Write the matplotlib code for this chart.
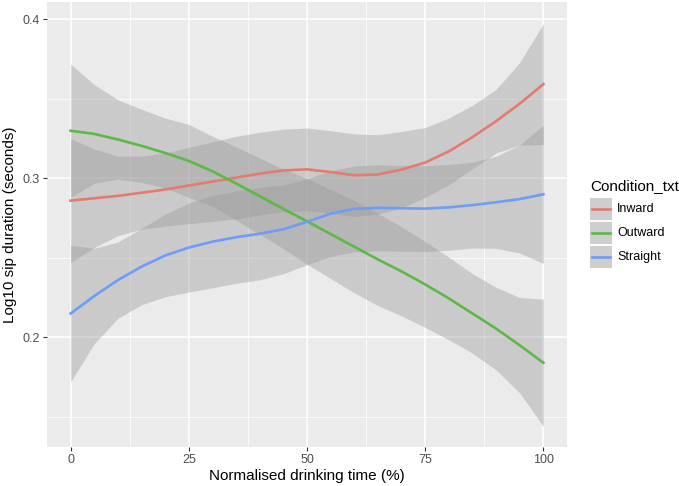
import numpy as np
import matplotlib
matplotlib.use("Agg")
import matplotlib.pyplot as plt
from matplotlib.patches import Rectangle
from matplotlib.lines import Line2D

plt.rcParams['font.family'] = ['Liberation Sans', 'DejaVu Sans']

time_pct = np.arange(0, 101, 5)

conditions = ['Inward', 'Outward', 'Straight']
colors = ['#E57A70', '#5CB946', '#6E9CF8']

inward_fit = [0.286, 0.2875, 0.289, 0.291, 0.293, 0.2955, 0.298, 0.3005, 0.303, 0.305, 0.3057,
              0.304, 0.302, 0.3025, 0.3055, 0.310, 0.317, 0.326, 0.336, 0.347, 0.3593]
inward_se = [0.039, 0.031, 0.025, 0.023, 0.023, 0.024, 0.025, 0.026, 0.026, 0.026, 0.026,
             0.026, 0.026, 0.025, 0.024, 0.022, 0.021, 0.020, 0.020, 0.026, 0.038]

outward_fit = [0.330, 0.328, 0.3245, 0.3205, 0.316, 0.311, 0.3045, 0.2968, 0.2888, 0.2808, 0.273,
               0.265, 0.257, 0.249, 0.2415, 0.2333, 0.2245, 0.215, 0.2055, 0.195, 0.184]
outward_se = [0.042, 0.031, 0.025, 0.023, 0.022, 0.023, 0.022, 0.023, 0.024, 0.025, 0.027,
              0.028, 0.029, 0.029, 0.028, 0.027, 0.026, 0.025, 0.026, 0.030, 0.040]

straight_fit = [0.215, 0.226, 0.236, 0.2445, 0.2515, 0.2565, 0.2602, 0.263, 0.2652, 0.268, 0.2727,
                0.2778, 0.2808, 0.2815, 0.2812, 0.281, 0.2818, 0.2832, 0.285, 0.287, 0.290]
straight_se = [0.043, 0.030, 0.024, 0.024, 0.026, 0.028, 0.029, 0.029, 0.029, 0.028, 0.027,
               0.027, 0.027, 0.027, 0.027, 0.027, 0.027, 0.027, 0.029, 0.034, 0.0435]

fits = [inward_fit, outward_fit, straight_fit]
ses = [inward_se, outward_se, straight_se]

W, H = 679, 486
fig = plt.figure(figsize=(W / 100, H / 100), dpi=100)
ax = fig.add_axes([47 / W, 1 - 447 / H, (567 - 47) / W, (447 - 2) / H])
ax.set_facecolor('#EBEBEB')

ax.set_xlim(-5, 105)
ax.set_ylim(0.131, 0.411)
ax.set_xticks([0, 25, 50, 75, 100])
ax.set_xticks([12.5, 37.5, 62.5, 87.5], minor=True)
ax.set_yticks([0.2, 0.3, 0.4])
ax.set_yticklabels(['0.2', '0.3', '0.4'])
ax.set_yticks([0.15, 0.25, 0.35], minor=True)
ax.grid(which='major', color='white', lw=1.1)
ax.grid(which='minor', color='white', lw=0.55)
ax.set_axisbelow(True)
for s in ax.spines.values():
    s.set_visible(False)
ax.tick_params(which='major', length=3, width=0.8, color='#333333',
               labelsize=9, labelcolor='#4D4D4D', pad=2)
ax.tick_params(which='minor', length=0)

# ribbon then line for each group, like geom_smooth
for fit, se, col in zip(fits, ses, colors):
    fit = np.array(fit)
    se = np.array(se)
    ax.fill_between(time_pct, fit - se, fit + se, color='#999999', alpha=0.4, lw=0)
    ax.plot(time_pct, fit, color=col, lw=1.9, solid_joinstyle='round')

ax.set_xlabel('Normalised drinking time (%)', fontsize=11, labelpad=2)
ax.set_ylabel('Log10 sip duration (seconds)', fontsize=11, labelpad=4)

# legend drawn by hand to get the ggplot key boxes
fig.text(590 / W, 1 - 186 / H, 'Condition_txt', fontsize=11, va='center', ha='left')
key = 22
for i, (lab, col) in enumerate(zip(conditions, colors)):
    y0 = 198 + i * 24
    fig.patches.append(Rectangle((590 / W, 1 - (y0 + key) / H), key / W, key / H,
                                 transform=fig.transFigure, facecolor='#CECECE',
                                 edgecolor='none'))
    fig.lines.append(Line2D([592 / W, 610 / W], [1 - (y0 + key / 2) / H] * 2,
                            transform=fig.transFigure, color=col, lw=1.9))
    fig.text(617 / W, 1 - (y0 + key / 2) / H, lab, fontsize=9, va='center', ha='left')

fig.savefig('out.png', dpi=100)
